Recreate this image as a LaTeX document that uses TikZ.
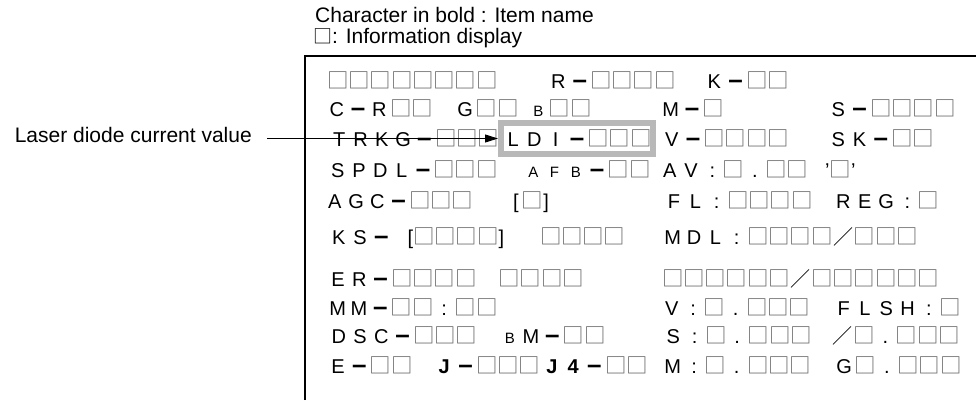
\documentclass[tikz,border=0pt]{standalone}
\usepackage{fontspec}
\setmainfont{Liberation Sans}
\newfontfamily\cjk{Noto Sans CJK JP}
\usetikzlibrary{arrows.meta}

\definecolor{boxgray}{gray}{0.4}
\definecolor{hlgray}{gray}{0.72}

% one character cell of the display
\newlength\cw
\setlength\cw{21.3pt}
\newcommand\sqbox{{\cjk\fontsize{21.5}{21.5}\selectfont □}}
\newcommand\bx{\textcolor{boxgray}{\sqbox}}
\newcommand\dsh{{\fontsize{26}{26}\selectfont\bfseries –}}
\newcommand\sls{{\cjk\fontsize{20}{20}\selectfont ／}}
\newcommand\sm{\fontsize{15}{15}\selectfont}

\makeatletter
\def\seg#1{\seg@#1\relax}
\def\seg@#1{\ifx\relax#1\else\seg@put{#1}\expandafter\seg@\fi}
\def\seg@put#1{\makebox[\cw][c]{\ifx*#1\bx\else\ifx-#1\dsh\else\ifx/#1\sls\else#1\fi\fi\fi}}
\makeatother

\begin{document}
\begin{tikzpicture}[
    x=1pt, y=-1pt,
    legend/.style={anchor=base west, inner sep=0pt, font=\fontsize{21}{25}\selectfont},
    disp/.style={anchor=base west, inner sep=0pt, font=\fontsize{20}{24}\selectfont},
    ldibox/.style={draw=hlgray, line width=6pt, anchor=base, inner sep=0pt,
        text height=23pt, text depth=8pt, minimum width=152pt, font=\fontsize{20}{24}\selectfont},
    rim/.style={line width=2.6pt},
    pointer/.style={-{Triangle[length=13pt, width=8pt]}, line width=1pt, shorten <=15pt}
]
\useasboundingbox (0,0) rectangle (976,400);

% === Legend ===
\node[legend] (legbold) at (315,22) {Character in bold : Item name};
\node[legend] (legbox) at (313,43.5) {{\cjk\fontsize{19}{19}\selectfont □}: Information display};

\draw[rim] (305,400) -- (305,56) -- (976,56);

% === Display rows ===
\node[disp] (idle) at (327,88.5) {\seg{********}};
\node[disp] (rval) at (547.6,88.5) {\seg{R-****}};
\node[disp] (kval) at (703.4,88.5) {\seg{K-**}};

\node[disp] (crval) at (326,116) {\seg{C-R**}};
\node[disp] (gval) at (454.4,116) {\seg{G**}};
\node[disp] (bval) at (527.4,116) {\seg{{\sm B}**}};
\node[disp] (mval) at (659.9,116) {\seg{M-*}};
\node[disp] (sval) at (827.4,116) {\seg{S-****}};

\node[disp] (trkg) at (328.4,146) {\seg{TRKG-***}};
\node[ldibox] (ldi) at (577,146) {\seg{LDI-***}};
\node[disp] (vval) at (660.9,146) {\seg{V-****}};
\node[disp] (skval) at (827.4,146) {\seg{SK-**}};

\node[disp] (spdl) at (327,177) {\seg{SPDL-***}};
\node[disp] (afb) at (522.4,177) {\seg{{\sm A}{\sm F}{\sm B}-**}};
\node[disp] (avval) at (658.9,177) {\seg{AV:*.**}};
\node[disp] (quote) at (825,177) {'\bx'};

\node[disp] (agc) at (323.9,208) {\seg{AGC-***}};
\node[disp] (sel) at (513,208) {[\kern3pt\bx\kern0pt]};
\node[disp] (flval) at (663.2,208) {\seg{FL:****}};
\node[disp] (reg) at (832.6,208) {\seg{REG:*}};

\node[disp] (ks) at (327.9,244) {\seg{KS-{\hfill[}****{]\hfill}}};
\node[disp] (ksext) at (539.9,244) {\seg{****}};
\node[disp] (mdl) at (661.9,244) {\seg{MDL:****/***}};

\node[disp] (er) at (327.1,286) {\seg{ER-****}};
\node[disp] (erext) at (498.5,286) {\seg{****}};
\node[disp] (ratio) at (661.9,286) {\seg{******/******}};

\node[disp] (mm) at (326.9,315) {\seg{MM-**:**}};
\node[disp] (vtime) at (660.9,315) {\seg{V:*.***}};
\node[disp] (flsh) at (832.9,315) {\seg{FLSH:*}};

\node[disp] (dsc) at (327.9,343) {\seg{DSC-***}};
\node[disp] (bm) at (498.9,343) {\seg{{\sm B}M-**}};
\node[disp] (stime) at (662.4,343) {\seg{S:*.***}};
\node[disp] (sdiv) at (831.9,343) {\seg{/*.***}};

\node[disp] (ev) at (327.1,373) {\seg{E-**}};
\node[disp] (jv) at (433.4,373) {\seg{{\bfseries J}-***}};
\node[disp] (jfour) at (541,373) {\seg{{\bfseries J}{\bfseries 4}-**}};
\node[disp] (mtime) at (661.9,373) {\seg{M:*.***}};
\node[disp] (gtime) at (833.4,373) {\seg{G*.***}};

% === Pointer ===
\node[legend, anchor=base east] (laser) at (252,142.3) {Laser diode current value};
\draw[pointer] (laser.east |- ldi.west) -- (ldi.west);

\end{tikzpicture}
\end{document}
